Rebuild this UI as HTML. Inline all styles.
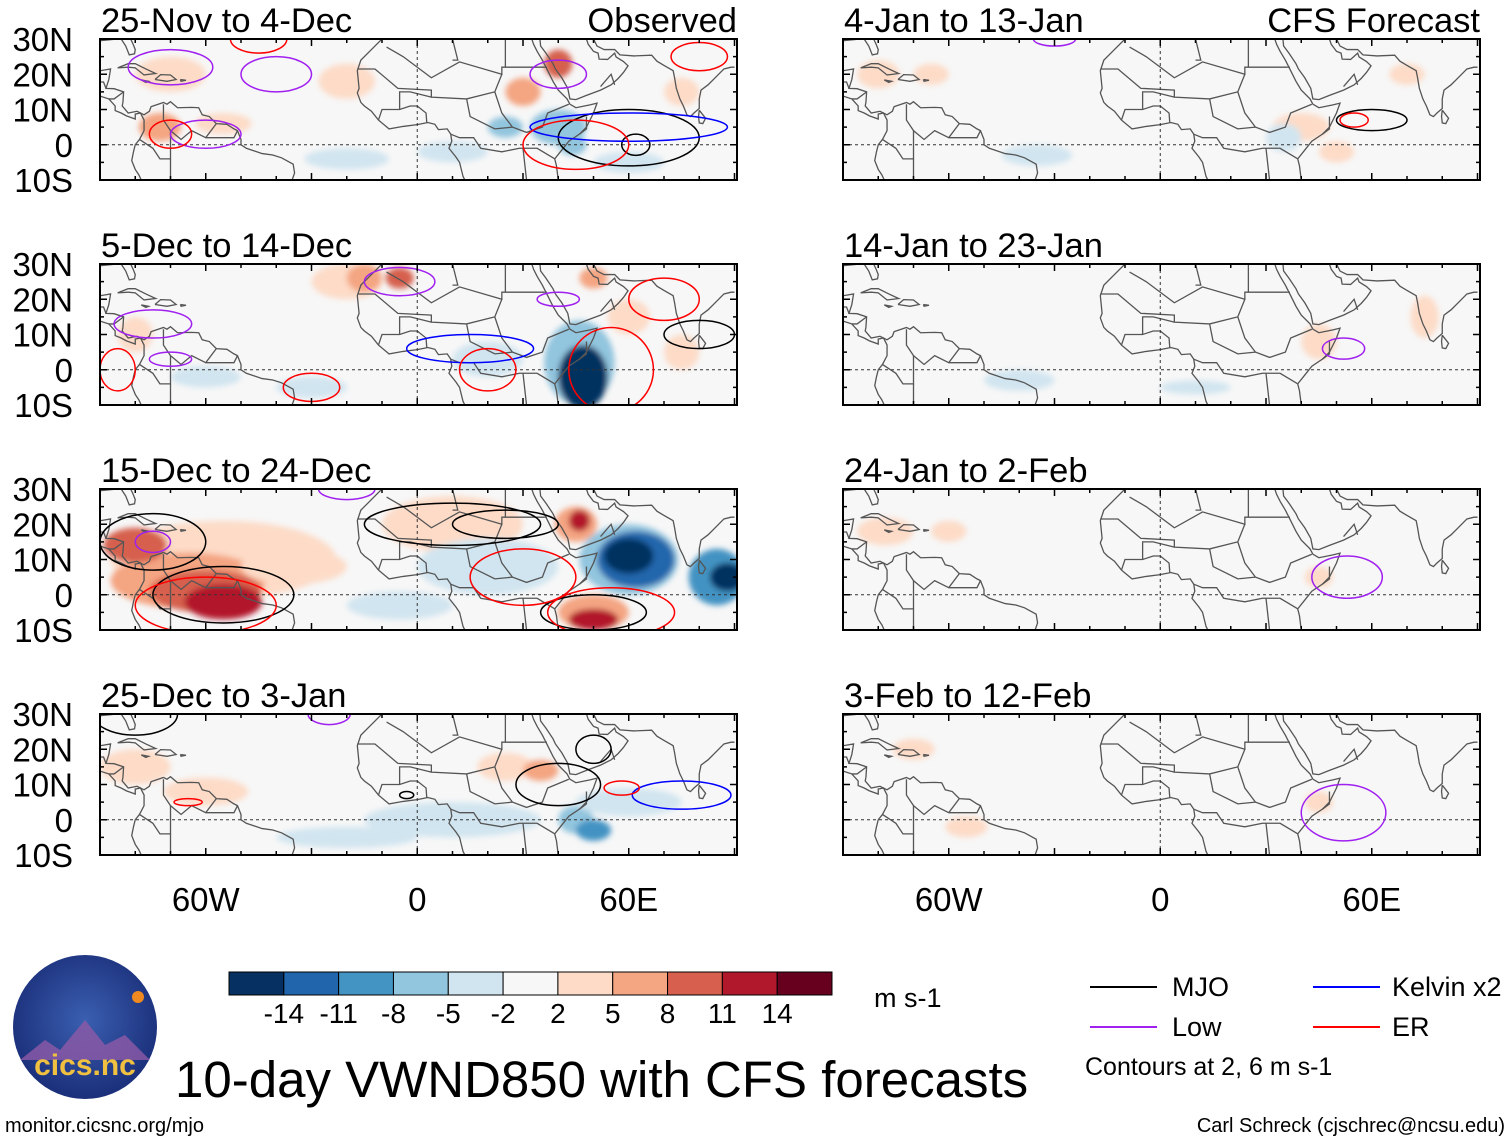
<!DOCTYPE html>
<html><head><meta charset="utf-8"><style>
body{margin:0;background:#fff;width:1510px;height:1142px;overflow:hidden;font-family:"Liberation Sans",sans-serif}
svg text{font-family:"Liberation Sans",sans-serif}
</style></head><body>
<svg id="fig" width="1510" height="1142" viewBox="0 0 1510 1142" xmlns="http://www.w3.org/2000/svg">
<defs>
<filter id="bl" x="-50%" y="-50%" width="200%" height="200%"><feGaussianBlur stdDeviation="3"/></filter>
<radialGradient id="lg" cx="50%" cy="45%" r="55%"><stop offset="0" stop-color="#3a5fb0"/><stop offset="1" stop-color="#1b2f7a"/></radialGradient>
</defs>
<g id="panels"></g>
<g id="cbar"></g>
<text x="874" y="1007" font-size="27">m s-1</text>
<g font-size="27">
<line x1="1090" y1="987" x2="1157" y2="987" stroke="#000" stroke-width="2"/><text x="1172" y="996">MJO</text>
<line x1="1090" y1="1027" x2="1157" y2="1027" stroke="#a020f0" stroke-width="2"/><text x="1172" y="1036">Low</text>
<line x1="1313" y1="987" x2="1380" y2="987" stroke="#0000ff" stroke-width="2"/><text x="1392" y="996">Kelvin x2</text>
<line x1="1313" y1="1027" x2="1380" y2="1027" stroke="#ff0000" stroke-width="2"/><text x="1392" y="1036">ER</text>
<text x="1085" y="1075" font-size="25">Contours at 2, 6 m s-1</text>
</g>
<g>
<circle cx="85" cy="1027" r="72" fill="url(#lg)"/>
<path d="M20 1060 L45 1040 L60 1050 L85 1020 L105 1045 L125 1035 L150 1060 Z" fill="#8e5aa8" opacity="0.8"/>
<text x="85" y="1075" font-size="30" fill="#f0c040" text-anchor="middle" font-weight="bold">cics.nc</text>
<circle cx="138" cy="997" r="6" fill="#f08a20"/>
</g>
<text x="175" y="1097" font-size="51">10-day VWND850 with CFS forecasts</text>
<text x="5" y="1132" font-size="20">monitor.cicsnc.org/mjo</text>
<text x="1505" y="1132" font-size="20" text-anchor="end">Carl Schreck (cjschrec@ncsu.edu)</text>
</svg>
<script>
const levels=["-14","-11","-8","-5","-2","2","5","8","11","14"];
const colors=["#053061","#2166ac","#4393c3","#92c5de","#d1e5f0","#f7f7f7","#fddbc7","#f4a582","#d6604d","#b2182b","#67001f"];
const latTicks=["30N","20N","10N","0","10S"];
const latVals=[30,20,10,0,-10];
const lonTicks=["60W","0","60E"];
const lonVals=[-60,0,60];
const titles=["25-Nov to 4-Dec","5-Dec to 14-Dec","15-Dec to 24-Dec","25-Dec to 3-Jan","4-Jan to 13-Jan","14-Jan to 23-Jan","24-Jan to 2-Feb","3-Feb to 12-Feb"];
// shading blobs: [lon, lat, rxDeg, ryDeg, colorIndex]
const blobs=[
[[-70,20,10,5,6],[-73,5,6,4,7],[-55,6,8,3,6],[-20,18,8,5,6],[30,15,5,4,7],[40,23,4,4,8],[40,5,8,5,3],[10,-2,10,3,4],[-20,-4,12,3,4],[60,-5,10,3,4],[25,5,5,3,3],[75,15,5,4,6],[44,0,4,3,3]],
[[-20,25,10,5,6],[-15,26,5,4,7],[-5,26,4,3,8],[50,26,4,3,7],[46,2,10,12,3],[47,-2,7,9,0],[20,3,10,5,4],[-30,-5,10,3,4],[-80,10,5,5,6],[60,15,6,5,6],[75,5,5,5,6],[-60,-2,10,3,4]],
[[-55,10,32,11,6],[-65,4,22,8,7],[-60,1,16,6,8],[-80,14,9,5,8],[-55,-2,11,5,9],[-35,8,15,5,6],[10,20,20,8,6],[45,20,6,5,7],[46,21,3,3,9],[60,10,14,10,3],[62,10,11,8,1],[60,11,7,5,0],[85,5,8,8,2],[88,5,5,4,0],[50,-5,10,5,7],[50,-7,7,3,9],[20,8,20,8,4],[-5,-3,15,4,4]],
[[-80,15,10,5,6],[-60,8,12,4,6],[25,15,8,4,6],[35,14,5,3,7],[45,0,5,4,3],[50,-3,5,3,2],[10,0,25,5,4],[60,5,15,4,4],[-20,-5,20,3,4]],
[[-80,20,6,4,6],[-65,20,5,3,6],[40,5,8,4,6],[50,-2,5,3,6],[-35,-3,10,3,4],[35,2,5,4,4],[70,20,5,3,6]],
[[75,15,4,6,6],[45,8,5,5,6],[-40,-3,10,3,4],[10,-5,10,2,4]],
[[-78,18,8,4,6],[-60,18,5,3,6],[45,5,4,3,6]],
[[-70,20,6,3,6],[-55,-2,6,3,6],[45,5,4,3,6]]
];
// contours: [lon, lat, rxDeg, ryDeg, color]
const conts=[
[[-70,22,12,5,"#a020f0"],[-40,20,10,5,"#a020f0"],[-60,3,10,4,"#a020f0"],[-70,3,6,4,"#ff0000"],[-45,30,8,4,"#ff0000"],[40,20,8,4,"#a020f0"],[60,2,20,8,"#000"],[62,0,4,3,"#000"],[60,5,28,4,"#0000ff"],[45,0,15,7,"#ff0000"],[80,25,8,4,"#ff0000"]],
[[-75,13,11,4,"#a020f0"],[-5,25,10,4,"#a020f0"],[40,20,6,2,"#a020f0"],[15,6,18,4,"#0000ff"],[20,0,8,6,"#ff0000"],[-30,-5,8,4,"#ff0000"],[55,0,12,12,"#ff0000"],[70,20,10,6,"#ff0000"],[80,10,10,4,"#000"],[-85,0,5,6,"#ff0000"],[-70,3,6,2,"#a020f0"]],
[[-75,15,15,8,"#000"],[-55,0,20,8,"#000"],[-60,-3,20,8,"#ff0000"],[10,20,25,6,"#000"],[25,20,15,4,"#000"],[50,-5,15,5,"#000"],[55,-5,18,7,"#ff0000"],[30,5,15,8,"#ff0000"],[-75,15,5,3,"#a020f0"],[-20,30,8,3,"#a020f0"]],
[[-80,30,12,6,"#000"],[-25,30,6,3,"#a020f0"],[50,20,5,4,"#000"],[40,10,12,6,"#000"],[75,7,14,4,"#0000ff"],[58,9,5,2,"#ff0000"],[-65,5,4,1,"#ff0000"],[-3,7,2,1,"#000"]],
[[-30,30,6,2,"#a020f0"],[60,7,10,3,"#000"],[55,7,4,2,"#ff0000"]],
[[52,6,6,3,"#a020f0"]],
[[53,5,10,6,"#a020f0"]],
[[52,2,12,8,"#a020f0"]]
];
const coast=[
[[-10,30],[-13,27],[-16,24],[-17,21],[-16.5,16],[-17,14.7],[-16,12],[-15,11],[-13,9.5],[-11,7],[-8,4.5],[-4,5.2],[0,5.7],[3,6.3],[5,5.8],[6,4.3],[8.5,4.5],[9.5,3],[9.8,1],[9,-1],[11,-3.5],[12,-5],[13,-9],[13.5,-10]],
[[40,-10],[39.5,-6],[39,-4],[41,-1.5],[43,1],[46,3],[48,5],[50,9],[51,11.8],[49,11.3],[45,10.5],[43.3,11.5],[42.5,13],[40,15.5],[38.5,18],[37,21],[35.5,24],[34,26.5],[33,28.5],[32.5,30]],
[[34.8,30],[35,28],[36.5,26],[38.5,23],[39.2,21.5],[41,19],[42.7,16],[43.3,13],[45,12.8],[48,14],[52,15.5],[55,17],[57,18.8],[58.5,20.5],[59.8,22.4],[58.5,23.6],[56.4,24.9],[56,26],[54,24.2],[51.6,24.3],[51.3,26],[50,26.5],[48.5,28.5],[48,30]],
[[50,30],[51,28],[53,27],[56,27],[57.5,25.5],[61.5,25.2],[66.5,25.4],[68,23.7],[70,22.5],[72.6,21],[73,19],[73.5,16],[74.5,13],[75.5,11],[76.5,8.5],[77.5,8],[78.5,9],[80,10.3],[80,13],[80.5,15.5],[82.5,17],[84.5,19],[87,21.5],[89,22],[90,22]],
[[80,9.8],[81.8,7.5],[81,6],[80,6.2],[79.8,8],[80,9.8]],
[[-90,29.5],[-85,30],[-84,30],[-82.7,28],[-81.7,25.5],[-80.2,25.8],[-80,27],[-80.6,28.5],[-81.3,30]],
[[-90,21],[-87,21.5],[-87.5,18.5],[-88.3,16],[-86,15.9],[-83.3,15],[-83.5,12],[-83.7,11],[-82,9],[-79.5,9.5],[-77.5,8.5],[-76,9.5],[-75.5,10.8],[-72,12],[-71,11.5],[-70,12.2],[-68,10.5],[-64,10.6],[-62,10.5],[-61,8.5],[-59,8],[-57,6],[-54,5.8],[-52,4.5],[-51,4],[-50,1.5],[-50,0],[-48.5,-1],[-44,-2.5],[-41,-2.9],[-38.5,-3.7],[-35.2,-5.5],[-34.8,-8],[-35.5,-10]],
[[-90,13.8],[-87.5,13],[-85.7,11],[-85.7,9.7],[-84,9],[-82.5,8.2],[-80,7.3],[-80,8.7],[-78.5,9],[-77.5,7],[-77.5,4],[-78.8,1.5],[-80,0],[-80.5,-2],[-81,-4.5],[-80,-7],[-79,-8.5],[-78.3,-10]],
[[-85,21.8],[-82,23],[-80,23],[-77,21.5],[-74.2,20.2],[-77.5,19.8],[-80,21.8],[-82,22],[-85,21.8]],
[[-74.4,18.5],[-72.8,19.9],[-70,19.8],[-68.4,18.5],[-71,18],[-74.4,18.5]],
[[-78.3,18.4],[-76.2,18],[-77,17.7],[-78.3,18.4]],
[[-67.2,18.5],[-65.6,18.3],[-67,18],[-67.2,18.5]],
[[-8.7,27.7],[-4,25],[4,19],[12,23.5],[24,20],[24,22],[25,22],[36,22]],[[-17,21.5],[-12,21.5],[-5.5,16],[4,15.5],[4,13.5],[14,13],[22,15],[24,20]],[[25,22],[25,30]],[[10,30],[11.5,24],[10,24]],[[22,15],[24,9],[27,5],[31,3.5],[34,4.5],[35.5,5],[37,9],[43,11.5]],[[14,13],[15,8],[16,7.5],[22,4.5],[27,5]],[[9.5,3],[12,2],[16,2],[18,-1],[24,-2],[29,-1],[34,-1],[39,-4]],[[-11,7],[-10,10],[-5,10],[-2,11],[0,11],[2.5,9],[2.7,6.3]],[[-5,10],[-5,15],[-2,15],[4,13.5]],[[30,-1],[31,-10]],[[-57,6],[-60,2],[-64,4],[-67,1.5],[-70,4],[-72,7],[-72,11.5]],[[-70,4],[-70,-4],[-73,-4],[-75,-1],[-78.8,1.5]],[[-60,2],[-56,2],[-52,2],[-51,4]],[[-70,-4],[-70,-10]],[[-91,17.8],[-89,17.8],[-88.3,16]],[[48,8],[48,4.5],[46,3]],[[52,16.5],[55,20],[56,17]],[[36,22],[36.8,22]],[[-83.3,15],[-86,13],[-87.5,13]]
];
const NS="http://www.w3.org/2000/svg";
const fig=document.getElementById('panels');
const K=3.525;
function mk(tag,attrs,parent){const e=document.createElementNS(NS,tag);for(const k in attrs)e.setAttribute(k,attrs[k]);parent.appendChild(e);return e;}
const rowsY=[39,264,489,714];
for(let p=0;p<8;p++){
  const col=p<4?0:1, row=p%4;
  const x0=col?843:100, y0=rowsY[row], W=637, H=141;
  const xs=lon=>x0+(lon+90)*K, ys=lat=>y0+(30-lat)*K;
  const g=mk('g',{},fig);
  
  
  const cid='clip'+p;
  const cp=mk('clipPath',{id:cid},g);mk('rect',{x:x0,y:y0,width:W,height:H},cp);
  const inner=mk('g',{'clip-path':'url(#'+cid+')'},g);
  mk('rect',{x:x0,y:y0,width:W,height:H,fill:'#f7f7f7'},inner);
  const sh=mk('g',{filter:'url(#bl)'},inner);
  
  
  blobs[p].forEach(b=>{const e=mk('ellipse',{cx:xs(b[0]),cy:ys(b[1]),rx:b[2]*K,ry:b[3]*K,fill:colors[b[4]]},sh);
    
    });
  coast.forEach(c=>{const e=mk('polyline',{points:c.map(q=>xs(q[0])+','+ys(q[1])).join(' '),fill:'none',stroke:'#555','stroke-width':1.3},inner);
    
    });
  mk('line',{x1:x0,y1:ys(0),x2:x0+W,y2:ys(0),stroke:'#333','stroke-dasharray':'3,3','stroke-width':1},inner);
  mk('line',{x1:xs(0),y1:y0,x2:xs(0),y2:y0+H,stroke:'#333','stroke-dasharray':'3,3','stroke-width':1},inner);
  conts[p].forEach(c=>{const e=mk('ellipse',{cx:xs(c[0]),cy:ys(c[1]),rx:c[2]*K,ry:c[3]*K,fill:'none',stroke:c[4],'stroke-width':1.5},inner);
    
    });
  mk('rect',{x:x0,y:y0,width:W,height:H,fill:'none',stroke:'#000','stroke-width':2},g);
  for(let lon=-90;lon<=90;lon+=10){const L=lon%30===0?7:4;mk('line',{x1:xs(lon),y1:y0,x2:xs(lon),y2:y0+L,stroke:'#000','stroke-width':1.5},g);mk('line',{x1:xs(lon),y1:y0+H,x2:xs(lon),y2:y0+H-L,stroke:'#000','stroke-width':1.5},g);}
  for(let lat=-10;lat<=30;lat+=5){const L=lat%10===0?7:4;mk('line',{x1:x0,y1:ys(lat),x2:x0+L,y2:ys(lat),stroke:'#000','stroke-width':1.5},g);mk('line',{x1:x0+W,y1:ys(lat),x2:x0+W-L,y2:ys(lat),stroke:'#000','stroke-width':1.5},g);}
  const t=mk('text',{x:x0+1,y:y0-7,'font-size':34.5},g);t.textContent=titles[p];
  
  
  if(row===0){const r=mk('text',{x:x0+W,y:y0-7,'font-size':34.5,'text-anchor':'end'},g);r.textContent=col?'CFS Forecast':'Observed';
    
    }
  if(col===0){latVals.forEach((v,i)=>{const e=mk('text',{x:73,y:ys(v)+12,'font-size':33,'text-anchor':'end'},g);e.textContent=latTicks[i];
    
    });}
  if(row===3){lonVals.forEach((v,i)=>{const e=mk('text',{x:xs(v),y:911,'font-size':33,'text-anchor':'middle'},g);e.textContent=lonTicks[i];
    
    });}
}
const cb=document.getElementById('cbar');
const bw=(832-229)/colors.length;
colors.forEach((c,i)=>{const r=mk('rect',{x:229+i*bw,y:972,width:bw,height:23,fill:c,stroke:'#000','stroke-width':1},cb);
  
  });
levels.forEach((l,i)=>{const t=mk('text',{x:229+(i+1)*bw,y:1023,'font-size':28,'text-anchor':'middle'},cb);t.textContent=l;
  
  });
</script>
</body></html>
